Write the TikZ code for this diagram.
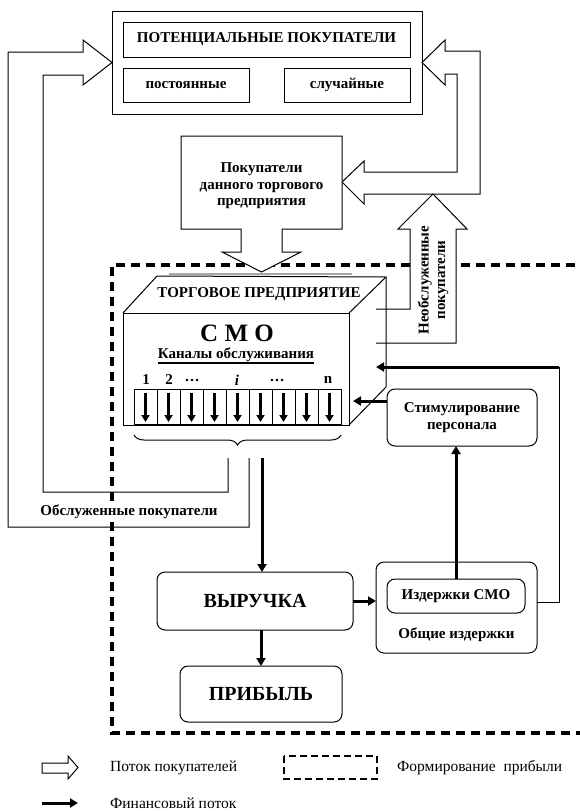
\documentclass[tikz,border=0pt]{standalone}
\usepackage{fontspec}
\setmainfont{Liberation Serif}
\usetikzlibrary{arrows.meta,decorations.pathreplacing}

\tikzset{
  lbl/.style={font=\bfseries\fontsize{15}{16.5}\selectfont, align=center},
  bigtxt/.style={font=\bfseries\fontsize{20}{20}\selectfont},
  legtext/.style={font=\fontsize{15.5}{17}\selectfont},
  thinline/.style={line width=1pt},
  plainbox/.style={draw, thinline, lbl, outer sep=0pt},
  rbox/.style={plainbox, rounded corners=8pt},
  flow/.style={draw, thinline, fill=white, line join=miter},
  fin/.style={line width=3pt, -{Triangle[length=8pt,width=9pt]}},
  cellarrow/.style={line width=2.2pt, -{Triangle[length=7pt,width=8pt]}},
  dashbox/.style={line width=3.2pt, dash pattern=on 9pt off 6pt},
  legdash/.style={line width=2.5pt, dash pattern=on 7pt off 4pt}
}

\begin{document}
\begin{tikzpicture}[x=1pt,y=-1pt]
  \tikzstyle{every node}+=[inner sep=0pt]
  \useasboundingbox (0,0) rectangle (580,811);
  \draw[dashbox] (590,265) -- (112,265) -- (112,733) -- (590,733);

  \node[plainbox, minimum width=310pt, minimum height=103pt] (pot) at (267,62.5) {};
  \node[plainbox, minimum width=287pt, minimum height=35pt] (title) at (266.5,39.5) {ПОТЕНЦИАЛЬНЫЕ ПОКУПАТЕЛИ};
  \node[plainbox, minimum width=126pt, minimum height=34pt] (post) at (186,85) {постоянные};
  \node[plainbox, minimum width=126pt, minimum height=34pt] (sluch) at (347,85) {случайные};

  % обслуженные покупатели
  \draw[thinline] (228,458) -- (228,492) -- (43,492) -- (43,75) -- (83,75) -- (83,85) -- (pot.west)
    -- (83,40) -- (83,52) -- (8,52) -- (8,527) -- (249,527) -- (249,458);
  \node[lbl, fill=white, inner sep=2pt] (served) at (129,512) {Обслуженные покупатели};

  % поток к покупателям предприятия
  \draw[flow] (pot.east) -- (445,40) -- (445,51) -- (480,51) -- (480,194) -- (364,194) -- (364,204)
    -- (342,182) -- (364,161) -- (364,172) -- (457,172) -- (457,74) -- (445,74) -- (445,85) -- cycle;
  \draw[flow] (181,136) -- (342,136) -- (342,229) -- (282,229) -- (282,252) -- (301,252) -- (261.5,272)
    -- (222,252) -- (241,252) -- (241,229) -- (181,229) -- cycle;
  \node[lbl] (buyers) at (261.5,186) {Покупатели\\данного торгового\\предприятия};

  % необслуженные покупатели
  \draw[flow] (376,309) -- (410,309) -- (410,229) -- (398,229) -- (433,194) -- (467,229) -- (456,229)
    -- (456,343) -- (376,343);
  \node[lbl, rotate=90] (unserved) at (433,280) {Необслуженные\\покупатели};

  % СМО
  \draw[gray!70, line width=1.6pt] (169,274) -- (352,274);
  \draw[thinline] (123,313) -- (157,276) -- (386,277) -- (349,313);
  \draw[thinline] (386,277) -- (386,387) -- (349,425);
  \node[plainbox, minimum width=226pt, minimum height=112pt] (smo) at (236,369) {};
  \node[lbl] (firm) at (259,294) {ТОРГОВОЕ ПРЕДПРИЯТИЕ};
  \node[lbl, font=\bfseries\fontsize{25}{25}\selectfont] (smoname) at (237,333) {С М О};
  \node[lbl] (chan) at (236,355) {Каналы обслуживания};
  \draw[line width=1.8pt] ([yshift=-4.5pt]chan.base west) -- ([yshift=-4.5pt]chan.base east);
  \node[lbl] at (146,380) {1};
  \node[lbl] at (169,380) {2};
  \node[lbl] at (192,380) {\dots};
  \node[lbl] at (237,380) {\textit{i}};
  \node[lbl] at (277,380) {\dots};
  \node[lbl] at (328,380) {n};
  \foreach \k in {0,...,8} {
    \draw[thinline] (134+23*\k,389) rectangle ++(23,35);
    \draw[cellarrow] (145.5+23*\k,393) -- ++(0,29);
  }
  \draw[thinline, decorate, decoration={brace, mirror, amplitude=10pt}] (134,435) -- (341,435);

  % финансовые потоки
  \node[rbox, minimum width=150pt, minimum height=57pt] (stim) at (462,417.5) {Стимулирование\\персонала};
  \node[rbox, minimum width=196pt, minimum height=58pt, bigtxt] (vyr) at (255,601) {ВЫРУЧКА};
  \node[rbox, minimum width=162pt, minimum height=56pt, bigtxt] (prib) at (261,694) {ПРИБЫЛЬ};
  \node[rbox, minimum width=161pt, minimum height=91pt] (obsh) at (456.5,607.5) {};
  \node[rbox, minimum width=138pt, minimum height=34pt] (izd) at (456,596) {Издержки СМО};
  \node[lbl] (obshlbl) at (456.5,635) {Общие издержки};

  \coordinate (brout) at (262,458);
  \coordinate (sidein) at (353,401);
  \coordinate (turn) at (559,367);
  \coordinate (sidetop) at (376,367);
  \draw[fin] (brout) -- (brout |- vyr.north);
  \draw[fin] (vyr.east) -- (vyr.east -| obsh.west);
  \draw[fin] (prib.north |- vyr.south) -- (prib.north);
  \draw[fin] (izd.north) -- (izd.north |- stim.south);
  \draw[fin] (stim.west |- sidein) -- (sidein);
  \draw[thinline] ([yshift=5.5pt]obsh.east) -| (turn);
  \draw[fin] (turn) -- (sidetop);

  % легенда
  \draw[flow] (42,763) -- (68,763) -- (68,756) -- (78,767.5) -- (68,779) -- (68,773) -- (42,773) -- cycle;
  \node[legtext, anchor=west] (lgflow) at (110,768) {Поток покупателей};
  \coordinate (fa) at (42,803);
  \coordinate (fb) at (78,803);
  \draw[fin] (fa) -- (fb);
  \node[legtext, anchor=west] (lgfin) at (110,803) {Финансовый поток};
  \draw[legdash] (284,756) rectangle (377,779);
  \node[legtext, anchor=west] (lgzone) at (397,768) {Формирование\ \ прибыли};
\end{tikzpicture}
\end{document}
